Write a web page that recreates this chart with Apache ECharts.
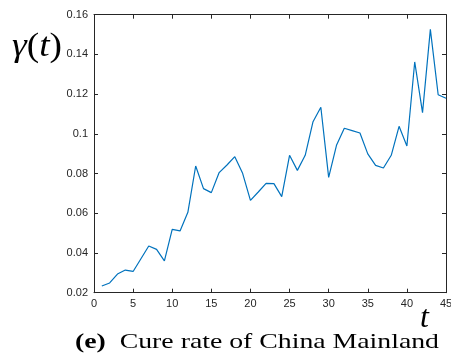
<!DOCTYPE html>
<html>
<head>
<meta charset="utf-8">
<script src="https://cdn.jsdelivr.net/npm/echarts@6/dist/echarts.min.js"></script>
<style>
  html, body { margin: 0; padding: 0; background: #fff; }
  #chart { width: 451px; height: 361px; }
</style>
</head>
<body>
<div id="chart"></div>
<script>
// Daily cure rate gamma(t) for China Mainland, t = 1..45
const days = [1,2,3,4,5,6,7,8,9,10,11,12,13,14,15,16,17,18,19,20,21,22,23,24,25,26,27,28,29,30,31,32,33,34,35,36,37,38,39,40,41,42,43,44,45];
const cureRate = [
  0.0234, 0.0249, 0.0294, 0.0314, 0.0307, 0.0371, 0.0435, 0.0418, 0.0360, 0.0519,
  0.0511, 0.0605, 0.0838, 0.0724, 0.0704, 0.0805, 0.0843, 0.0885, 0.0801, 0.0665,
  0.0707, 0.0751, 0.0749, 0.0684, 0.0892, 0.0816, 0.0892, 0.1061, 0.1134, 0.0781,
  0.0942, 0.1028, 0.1016, 0.1004, 0.0899, 0.0841, 0.0828, 0.0892, 0.1038, 0.0939,
  0.1362, 0.1107, 0.1526, 0.1197, 0.1179
];
const xTicks = { min: 0, max: 45, step: 5 };
const yTicks = { min: 0.02, max: 0.16, step: 0.02 };

const axisColor = '#262626';
const tickFont = { color: axisColor, fontSize: 11, fontFamily: 'Liberation Sans, Arial, sans-serif' };
const serif = '"Liberation Serif", "DejaVu Serif", serif';

// horizontal stretch so a text run fills a given width
const measureCtx = document.createElement('canvas').getContext('2d');
function stretchFor(parts, targetWidth) {
  let w = 0;
  parts.forEach(([font, txt]) => { measureCtx.font = font; w += measureCtx.measureText(txt).width; });
  return targetWidth / w;
}

const captionBold = 'bold 22px ' + serif;
const captionReg = '22px ' + serif;
const captionScale = stretchFor([[captionBold, '(e)'], [captionReg, '  Cure rate of China Mainland']], 364);

const symItalic = 'italic 33px ' + serif;
const symUpright = '33px ' + serif;
const gammaScale = stretchFor([[symItalic, 'γ'], [symUpright, '('], [symItalic, 't'], [symUpright, ')']], 50);

const chart = echarts.init(document.getElementById('chart'), null, { renderer: 'canvas' });

const fmtY = v => String(parseFloat(v.toFixed(2)));

chart.setOption({
  animation: false,
  backgroundColor: '#fff',
  grid: { left: 94, right: 5, top: 14.7, bottom: 68.3, containLabel: false, outerBoundsMode: 'none' },
  xAxis: [
    {
      type: 'value', min: xTicks.min, max: xTicks.max, interval: xTicks.step,
      axisLine: { onZero: false, lineStyle: { color: axisColor, width: 1 } },
      axisTick: { inside: true, length: 4, lineStyle: { color: axisColor } },
      axisLabel: Object.assign({ margin: 6, hideOverlap: false }, tickFont),
      splitLine: { show: false }
    },
    {
      type: 'value', position: 'top', min: xTicks.min, max: xTicks.max, interval: xTicks.step,
      axisLine: { onZero: false, lineStyle: { color: axisColor, width: 1 } },
      axisTick: { inside: true, length: 4, lineStyle: { color: axisColor } },
      axisLabel: { show: false },
      splitLine: { show: false }
    }
  ],
  yAxis: [
    {
      type: 'value', min: yTicks.min, max: yTicks.max, interval: yTicks.step,
      axisLine: { show: true, onZero: false, lineStyle: { color: axisColor, width: 1 } },
      axisTick: { show: true, inside: true, length: 4, lineStyle: { color: axisColor } },
      axisLabel: Object.assign({ margin: 6, formatter: fmtY }, tickFont),
      splitLine: { show: false }
    },
    {
      type: 'value', position: 'right', min: yTicks.min, max: yTicks.max, interval: yTicks.step,
      axisLine: { show: true, onZero: false, lineStyle: { color: axisColor, width: 1 } },
      axisTick: { show: true, inside: true, length: 4, lineStyle: { color: axisColor } },
      axisLabel: { show: false },
      splitLine: { show: false }
    }
  ],
  series: [
    {
      type: 'line',
      data: days.map((d, i) => [d, cureRate[i]]),
      showSymbol: false,
      lineStyle: { color: '#0072BD', width: 1.2 },
      itemStyle: { color: '#0072BD' }
    }
  ],
  graphic: [
    {
      type: 'text', x: 12, y: 31, scaleX: gammaScale,
      style: {
        text: '{i|γ}{u|(}{i|t}{u|)}',
        rich: {
          i: { font: symItalic, fill: '#000' },
          u: { font: symUpright, fill: '#000' }
        }
      }
    },
    {
      type: 'text', x: 420, y: 303,
      style: { text: 't', font: 'italic 32px ' + serif, fill: '#000' }
    },
    {
      type: 'text', x: 75, y: 331, scaleX: captionScale,
      style: {
        text: '{b|(e)}{n|  Cure rate of China Mainland}',
        rich: {
          b: { font: captionBold, fill: '#000' },
          n: { font: captionReg, fill: '#000' }
        }
      }
    }
  ]
});
</script>
</body>
</html>
